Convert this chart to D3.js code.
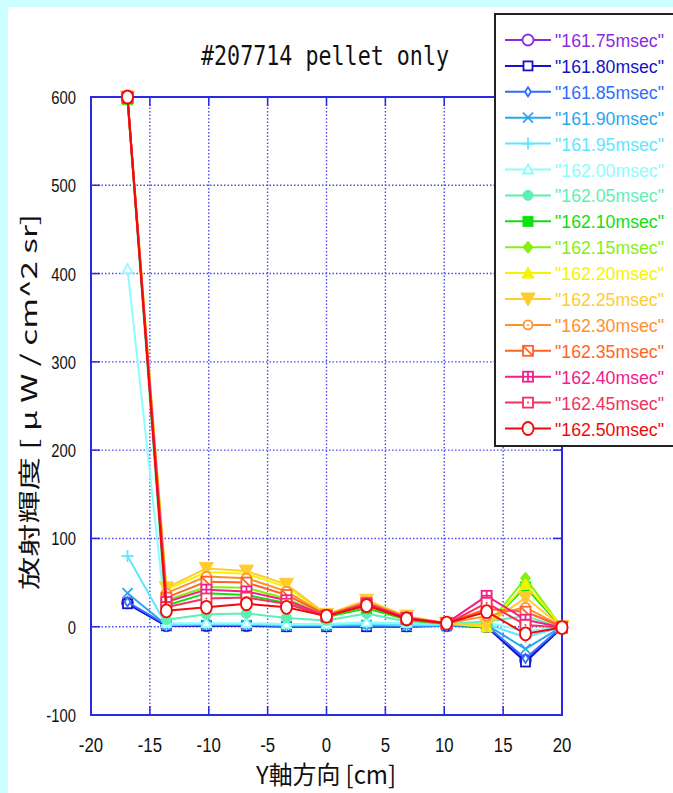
<!DOCTYPE html>
<html>
<head>
<meta charset="utf-8">
<script src="https://cdn.jsdelivr.net/npm/d3@7"></script>
<style>
  html, body { margin: 0; padding: 0; background: #ccffff; }
  svg { display: block; }
</style>
</head>
<body>
<svg id="chart" width="673" height="793"></svg>
<script>
// Chord positions along the Y axis [cm]
const positions = [-16.9, -13.6, -10.2, -6.8, -3.4, 0, 3.4, 6.8, 10.2, 13.6, 16.9, 20];

// Radiance per time frame [uW / cm^2 sr]
const t16175 = [27, 1, 1, 1, 1, 1, 1, 1, 1, 0, -38, -1];
const t16180 = [26, 1, 1, 1, 0, 0, 0, 0, 1, 0, -40, -1];
const t16185 = [28, 2, 2, 2, 1, 1, 1, 1, 1, 1, -36, 0];
const t16190 = [38, 2, 2, 2, 1, 1, 2, 1, 1, 2, -25, 0];
const t16195 = [80, 2, 3, 3, 2, 2, 3, 2, 2, 3, -12, 0];
const t16200 = [405, 4, 4, 4, 3, 3, 5, 4, 3, 5, -5, 0];
const t16205 = [597, 8, 14, 15, 10, 7, 15, 6, 3, 6, 12, -1];
const t16210 = [597, 24, 38, 36, 27, 11, 21, 8, 3, 0, 45, -1];
const t16215 = [598, 30, 45, 44, 32, 12, 24, 9, 3, 0, 55, -1];
const t16220 = [598, 42, 62, 60, 45, 14, 29, 11, 4, 0, 48, 0];
const t16225 = [600, 44, 66, 63, 48, 14, 30, 12, 4, 2, 33, 0];
const t16230 = [599, 38, 57, 55, 40, 13, 28, 11, 4, 12, 22, 0];
const t16235 = [599, 33, 51, 50, 36, 13, 27, 10, 4, 20, 17, 0];
const t16240 = [599, 28, 42, 40, 30, 12, 26, 10, 4, 35, 8, -1];
const t16245 = [600, 22, 32, 33, 26, 12, 25, 9, 3, 27, 2, -1];
const t16250 = [600, 18, 22, 26, 22, 12, 24, 9, 4, 17, -8, -1];

// Axis ticks
const xTicks = [-20, -15, -10, -5, 0, 5, 10, 15, 20];
const yTicks = [-100, 0, 100, 200, 300, 400, 500, 600];

const frames = [
  { label: '"161.75msec"', values: t16175, color: "#8a2be2", marker: "circle" },
  { label: '"161.80msec"', values: t16180, color: "#1414c8", marker: "square" },
  { label: '"161.85msec"', values: t16185, color: "#2f6cff", marker: "diamond" },
  { label: '"161.90msec"', values: t16190, color: "#2aa6f0", marker: "x" },
  { label: '"161.95msec"', values: t16195, color: "#5ee6ff", marker: "plus" },
  { label: '"162.00msec"', values: t16200, color: "#8cfcff", marker: "triangle" },
  { label: '"162.05msec"', values: t16205, color: "#5cf0b4", marker: "fcircle" },
  { label: '"162.10msec"', values: t16210, color: "#10e010", marker: "fsquare" },
  { label: '"162.15msec"', values: t16215, color: "#84f010", marker: "fdiamond" },
  { label: '"162.20msec"', values: t16220, color: "#f4f400", marker: "ftriangle" },
  { label: '"162.25msec"', values: t16225, color: "#ffcc30", marker: "ftriangledown" },
  { label: '"162.30msec"', values: t16230, color: "#ff9030", marker: "circledot" },
  { label: '"162.35msec"', values: t16235, color: "#ff6424", marker: "squareslash" },
  { label: '"162.40msec"', values: t16240, color: "#f0208a", marker: "squareplus" },
  { label: '"162.45msec"', values: t16245, color: "#f2335e", marker: "squaredot" },
  { label: '"162.50msec"', values: t16250, color: "#f00a0a", marker: "bigcircle" }
];

const svg = d3.select("#chart");

// white sheet
svg.append("rect").attr("x", 8).attr("y", 7).attr("width", 665).attr("height", 786).attr("fill", "#ffffff");

const x = d3.scaleLinear().domain([-20, 20]).range([91, 562]);
const y = d3.scaleLinear().domain([-100, 600]).range([715, 97]);

const gridColor = "#4a4af0";
const frameColor = "#2a2ae6";

// dotted grid
const grid = svg.append("g");
grid.selectAll("line.v").data(xTicks.slice(1, -1)).join("line")
  .attr("x1", d => x(d)).attr("x2", d => x(d))
  .attr("y1", y(600)).attr("y2", y(-100))
  .attr("stroke", gridColor).attr("stroke-width", 1.4).attr("stroke-dasharray", "1.5,2");
grid.selectAll("line.h").data(yTicks.slice(1, -1)).join("line")
  .attr("x1", x(-20)).attr("x2", x(20))
  .attr("y1", d => y(d)).attr("y2", d => y(d))
  .attr("stroke", gridColor).attr("stroke-width", 1.4).attr("stroke-dasharray", "1.5,2");

// inward tick marks on all four sides
const tickLen = 9;
const ticks = svg.append("g").attr("stroke", frameColor).attr("stroke-width", 1.5);
xTicks.forEach(d => {
  ticks.append("line").attr("x1", x(d)).attr("x2", x(d)).attr("y1", y(-100)).attr("y2", y(-100) - tickLen);
  ticks.append("line").attr("x1", x(d)).attr("x2", x(d)).attr("y1", y(600)).attr("y2", y(600) + tickLen);
});
yTicks.forEach(d => {
  ticks.append("line").attr("x1", x(-20)).attr("x2", x(-20) + tickLen).attr("y1", y(d)).attr("y2", y(d));
  ticks.append("line").attr("x1", x(20)).attr("x2", x(20) - tickLen).attr("y1", y(d)).attr("y2", y(d));
});

// frame
svg.append("rect")
  .attr("x", x(-20)).attr("y", y(600))
  .attr("width", x(20) - x(-20)).attr("height", y(-100) - y(600))
  .attr("fill", "none").attr("stroke", frameColor).attr("stroke-width", 2);

// tick labels (condensed)
const tickFont = "'Liberation Sans', Arial, sans-serif";
svg.append("g").selectAll("text").data(yTicks).join("text")
  .attr("transform", d => `translate(76,${y(d) + 7}) scale(0.78,1)`)
  .attr("text-anchor", "end")
  .attr("font-family", tickFont).attr("font-size", 19)
  .attr("fill", "#111")
  .text(d => d);
svg.append("g").selectAll("text").data(xTicks).join("text")
  .attr("transform", d => `translate(${x(d)},752) scale(0.8,1)`)
  .attr("text-anchor", "middle")
  .attr("font-family", tickFont).attr("font-size", 21)
  .attr("fill", "#111")
  .text(d => d);

// titles
svg.append("text")
  .attr("transform", "translate(325,65) scale(1,1.2)")
  .attr("text-anchor", "middle")
  .attr("font-family", "'DejaVu Sans Mono', 'Liberation Mono', monospace")
  .attr("font-size", 22)
  .attr("textLength", 248).attr("lengthAdjust", "spacingAndGlyphs")
  .attr("fill", "#111")
  .text("#207714 pellet only");

svg.append("text")
  .attr("transform", "translate(326,784) scale(1,1.12)")
  .attr("text-anchor", "middle")
  .attr("font-family", "'Noto Sans CJK JP', sans-serif")
  .attr("font-size", 22)
  .attr("textLength", 140).attr("lengthAdjust", "spacingAndGlyphs")
  .attr("fill", "#111")
  .text("Y軸方向 [cm]");

svg.append("text")
  .attr("transform", "translate(37,402) rotate(-90)")
  .attr("text-anchor", "middle")
  .attr("font-family", "'Noto Sans CJK JP', sans-serif")
  .attr("font-size", 22)
  .attr("textLength", 376).attr("lengthAdjust", "spacingAndGlyphs")
  .attr("fill", "#111")
  .text("放射輝度 [ μ W / cm^2 sr]");

// marker glyphs
function drawMarker(g, type, color) {
  const sw = 1.8;
  const open = sel => sel.attr("fill", "#fff").attr("stroke", color).attr("stroke-width", sw);
  const filled = sel => sel.attr("fill", color).attr("stroke", color).attr("stroke-width", 1);
  const seg = (x1, y1, x2, y2) => g.append("line").attr("x1", x1).attr("y1", y1).attr("x2", x2).attr("y2", y2)
    .attr("stroke", color).attr("stroke-width", sw);
  switch (type) {
    case "circle": open(g.append("circle").attr("r", 5.5)); break;
    case "square": open(g.append("rect").attr("x", -4.5).attr("y", -4.5).attr("width", 9).attr("height", 9)); break;
    case "diamond": open(g.append("path").attr("d", "M0,-4.5L3,0L0,4.5L-3,0Z")); break;
    case "x": seg(-5, -5, 5, 5); seg(-5, 5, 5, -5); break;
    case "plus": seg(-6, 0, 6, 0); seg(0, -6, 0, 6); break;
    case "triangle": open(g.append("path").attr("d", "M0,-5L5,4L-5,4Z")); break;
    case "fcircle": filled(g.append("circle").attr("r", 5)); break;
    case "fsquare": filled(g.append("rect").attr("x", -5).attr("y", -5).attr("width", 10).attr("height", 10)); break;
    case "fdiamond": filled(g.append("path").attr("d", "M0,-6L5,0L0,6L-5,0Z")); break;
    case "ftriangle": filled(g.append("path").attr("d", "M0,-6L6,5L-6,5Z")); break;
    case "ftriangledown": filled(g.append("path").attr("d", "M-7,-6L7,-6L0,7Z")); break;
    case "circledot":
      open(g.append("circle").attr("r", 4.5));
      g.append("circle").attr("r", 1).attr("fill", color);
      break;
    case "squareslash":
      open(g.append("rect").attr("x", -5).attr("y", -5).attr("width", 10).attr("height", 10));
      seg(-5, -5, 5, 5);
      break;
    case "squareplus":
      open(g.append("rect").attr("x", -5).attr("y", -5).attr("width", 10).attr("height", 10));
      seg(-5, 0, 5, 0); seg(0, -5, 0, 5);
      break;
    case "squaredot":
      open(g.append("rect").attr("x", -5).attr("y", -5).attr("width", 10).attr("height", 10));
      g.append("circle").attr("r", 1).attr("fill", color);
      break;
    case "bigcircle": open(g.append("ellipse").attr("rx", 5.5).attr("ry", 6.5)); break;
  }
}

// series lines and markers
const line = d3.line().x(d => x(d[0])).y(d => y(d[1]));
const plot = svg.append("g");
frames.forEach(f => {
  const pts = positions.map((p, i) => [p, f.values[i]]);
  const g = plot.append("g");
  g.append("path").attr("d", line(pts))
    .attr("fill", "none").attr("stroke", f.color).attr("stroke-width", 2)
    .attr("stroke-linejoin", "round");
  pts.forEach(p => {
    drawMarker(g.append("g").attr("transform", `translate(${x(p[0])},${y(p[1])})`), f.marker, f.color);
  });
});

// legend (its right edge runs past the sheet)
const lg = svg.append("g");
lg.append("path")
  .attr("d", "M673,14H495V446H673")
  .attr("fill", "#fff").attr("stroke", "#222").attr("stroke-width", 2);
frames.forEach((f, i) => {
  const cy = 40 + i * 25.9;
  lg.append("line").attr("x1", 505).attr("x2", 551).attr("y1", cy).attr("y2", cy)
    .attr("stroke", f.color).attr("stroke-width", 2);
  drawMarker(lg.append("g").attr("transform", `translate(528,${cy})`), f.marker, f.color);
  lg.append("text").attr("x", 555).attr("y", cy + 7)
    .attr("font-family", tickFont).attr("font-size", 18)
    .attr("textLength", 109).attr("lengthAdjust", "spacingAndGlyphs")
    .attr("fill", f.color)
    .text(f.label);
});
</script>
</body>
</html>
